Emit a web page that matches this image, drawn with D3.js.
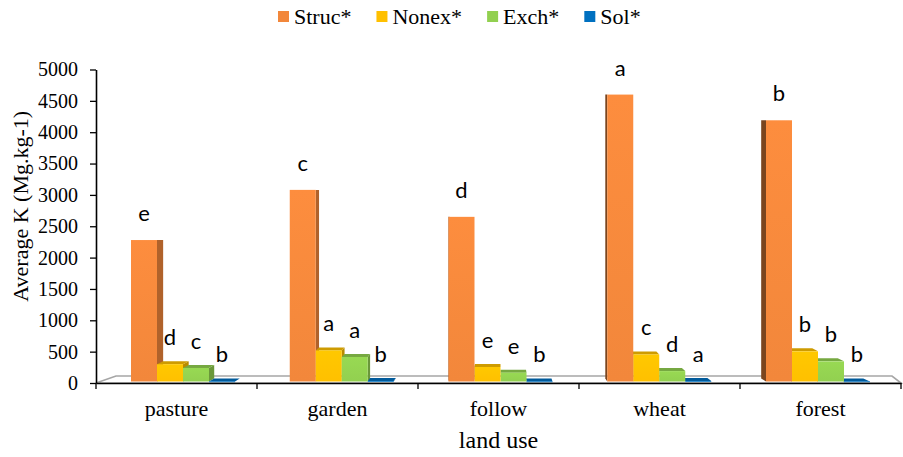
<!DOCTYPE html>
<html>
<head>
<meta charset="utf-8">
<script src="https://cdn.jsdelivr.net/npm/d3@7"></script>
<style>
  html, body { margin: 0; padding: 0; background: #fff; }
  svg { display: block; }
</style>
</head>
<body>
<svg id="chart" width="903" height="457"></svg>
<script>
// Land uses along the x axis
const categories = ["pasture", "garden", "follow", "wheat", "forest"];
// Potassium fractions (legend entries)
const seriesNames = ["Struc*", "Nonex*", "Exch*", "Sol*"];
// Average K per fraction and land use (Mg.kg-1)
const struc = [2280, 3080, 2650, 4600, 4190];
const nonex = [300, 520, 255, 455, 505];
const exch  = [240, 415, 165, 190, 345];
const sol   = [25, 30, 25, 30, 25];
// Mean-separation letters above each bar
const strucLetters = ["e", "c", "d", "a", "b"];
const nonexLetters = ["d", "a", "e", "c", "b"];
const exchLetters  = ["c", "a", "e", "d", "b"];
const solLetters   = ["b", "b", "b", "a", "b"];
// Y axis ticks
const yTicks = [0, 500, 1000, 1500, 2000, 2500, 3000, 3500, 4000, 4500, 5000];

const seriesValues = [struc, nonex, exch, sol];
const seriesLetters = [strucLetters, nonexLetters, exchLetters, solLetters];
const colors = ["#F2873B", "#FFC000", "#92D050", "#0070C0"];

const svg = d3.select("#chart");
const serif = "'Liberation Serif', 'Times New Roman', serif";

const plot = { left: 96, right: 901, top: 69.5, bottom: 383 };

const y = d3.scaleLinear().domain([0, 5000]).range([plot.bottom, plot.top]);
const xBand = d3.scaleBand().domain(categories).range([plot.left, plot.right]);
// front-left corner of each cluster (slightly compressed by perspective)
const xGroup = d3.scalePoint().domain(categories).range([131, 766]);
const barW = 26;
const vpX = (plot.left + plot.right) / 2;   // vanishing point for side faces
const persp = 0.018;
const floorY = plot.bottom - 1.5;

// gradients for the front faces
const defs = svg.append("defs");
colors.forEach((c, i) => {
  const g = defs.append("linearGradient").attr("id", "grad" + i)
    .attr("x1", 0).attr("y1", 0).attr("x2", 0).attr("y2", 1);
  g.append("stop").attr("offset", "0%").attr("stop-color", d3.color(c).brighter(0.12));
  g.append("stop").attr("offset", "100%").attr("stop-color", c);
});

// floor of the 3-D plot area
const floorDepthY = 7, floorDx = 20;
svg.append("polygon")
  .attr("points", [
    [plot.left, plot.bottom], [plot.left + floorDx, plot.bottom - floorDepthY],
    [plot.right - floorDx + 11, plot.bottom - floorDepthY], [plot.right, plot.bottom]
  ].map(p => p.join(",")).join(" "))
  .attr("fill", "#fff").attr("stroke", "#A6A6A6").attr("stroke-width", 1.6);

// bars with side and top faces
const bars = svg.append("g");
categories.forEach((cat, ci) => {
  const gx = xGroup(cat);
  const centre = gx + 2 * barW;
  const sideLeft = centre > vpX;
  const order = sideLeft ? [3, 2, 1, 0] : [0, 1, 2, 3];
  order.forEach(si => {
    const v = seriesValues[si][ci];
    const xL = gx + si * barW, xR = xL + barW;
    const yT = y(v), yB = floorY;
    const c = colors[si];
    const dyT = Math.max(0, Math.min(3, (yT - 300) * 0.06));
    const dyB = 3;
    const xe = sideLeft ? xL : xR;
    const dx = (vpX - xe) * persp;
    const sideColor = d3.color(c).darker(sideLeft ? 1.9 : 0.9);
    bars.append("polygon")
      .attr("points", [[xe, yT], [xe + dx, yT - dyT], [xe + dx, yB - dyB], [xe, yB]]
        .map(p => p.join(",")).join(" "))
      .attr("fill", sideColor);
    if (dyT > 0) {
      const dxL = (vpX - xL) * persp, dxR = (vpX - xR) * persp;
      bars.append("polygon")
        .attr("points", [[xL, yT], [xR, yT], [xR + dxR, yT - dyT], [xL + dxL, yT - dyT]]
          .map(p => p.join(",")).join(" "))
        .attr("fill", d3.color(c).darker(0.6));
    }
    bars.append("rect")
      .attr("x", xL).attr("y", yT)
      .attr("width", barW).attr("height", Math.max(0.8, yB - yT))
      .attr("fill", "url(#grad" + si + ")");
  });
});

// letters above bars
const labels = svg.append("g")
  .attr("font-family", "Lato, 'Open Sans', sans-serif")
  .attr("font-size", 22).attr("fill", "#000").attr("text-anchor", "middle");
categories.forEach((cat, ci) => {
  seriesValues.forEach((vals, si) => {
    labels.append("text")
      .attr("x", xGroup(cat) + si * barW + barW / 2)
      .attr("y", y(vals[ci]) - 19)
      .text(seriesLetters[si][ci]);
  });
});

// Y axis
const yAxis = svg.append("g")
  .attr("transform", `translate(${plot.left},0)`)
  .call(d3.axisLeft(y).tickValues(yTicks).tickSize(6).tickSizeOuter(0).tickPadding(12)
    .tickFormat(d3.format("d")));
yAxis.select(".domain").attr("stroke", "#000").attr("stroke-width", 1.6);
yAxis.selectAll(".tick line").attr("stroke", "#000").attr("stroke-width", 1.3);
yAxis.selectAll(".tick text").attr("font-family", serif).attr("font-size", 20).attr("fill", "#000");

// X axis: labels at band centres, ticks at band boundaries
const xAxis = svg.append("g")
  .attr("transform", `translate(0,${plot.bottom})`)
  .call(d3.axisBottom(xBand).tickSize(0).tickSizeOuter(0).tickPadding(17));
xAxis.select(".domain").attr("stroke", "#000").attr("stroke-width", 1.6);
xAxis.selectAll(".tick text").attr("font-family", serif).attr("font-size", 22).attr("fill", "#000");
const bounds = categories.map(c => xBand(c)).concat([xBand.range()[1]]);
xAxis.selectAll(".bound").data(bounds).join("line")
  .attr("x1", d => d).attr("x2", d => d).attr("y1", 0).attr("y2", 6)
  .attr("stroke", "#000").attr("stroke-width", 1.3);

// axis titles
svg.append("text")
  .attr("transform", `translate(28,${(plot.top + plot.bottom) / 2 - 20}) rotate(-90)`)
  .attr("text-anchor", "middle").attr("font-family", serif).attr("font-size", 22)
  .attr("fill", "#000").text("Average K (Mg.kg-1)");
svg.append("text")
  .attr("x", vpX).attr("y", 448)
  .attr("text-anchor", "middle").attr("font-family", serif).attr("font-size", 24)
  .attr("fill", "#000").text("land use");

// legend
const legend = svg.append("g").attr("transform", "translate(278,0)");
let lx = 0;
seriesNames.forEach((name, i) => {
  const item = legend.append("g").attr("transform", `translate(${lx},0)`);
  item.append("rect").attr("x", 0).attr("y", 11).attr("width", 11).attr("height", 11)
    .attr("fill", colors[i]);
  const t = item.append("text").attr("x", 16).attr("y", 23.5)
    .attr("font-family", serif).attr("font-size", 22).attr("fill", "#000").text(name);
  lx += 16 + t.node().getComputedTextLength() + 25;
});
</script>
</body>
</html>
